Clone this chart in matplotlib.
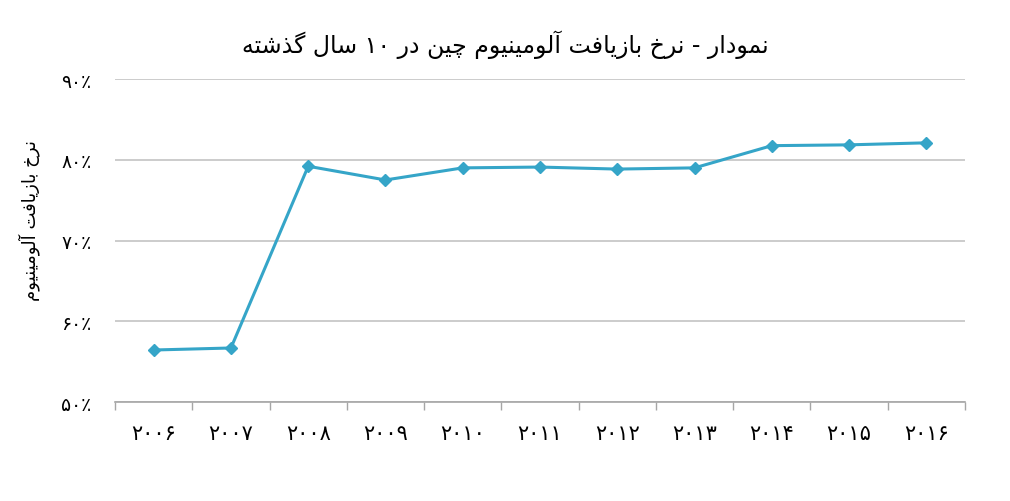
import re
import matplotlib
matplotlib.use("Agg")
import matplotlib.pyplot as plt

# data
years = ["۲۰۰۶", "۲۰۰۷", "۲۰۰۸", "۲۰۰۹", "۲۰۱۰", "۲۰۱۱", "۲۰۱۲", "۲۰۱۳", "۲۰۱۴", "۲۰۱۵", "۲۰۱۶"]
rates = [56.45, 56.7, 79.2, 77.5, 79.0, 79.1, 78.85, 79.0, 81.75, 81.85, 82.1]
y_ticks = [50, 60, 70, 80, 90]
y_tick_labels = ["۵۰٪", "۶۰٪", "۷۰٪", "۸۰٪", "۹۰٪"]
title = "نمودار - نرخ بازیافت آلومینیوم چین در ۱۰ سال گذشته"
y_title = "نرخ بازیافت آلومینیوم"

# matplotlib has no arabic shaping, so map letters to presentation forms by hand
# (isolated, final, initial, medial)
FORMS = {
    'ا': ('\uFE8D', '\uFE8E', None, None),
    'آ': ('\uFE81', '\uFE82', None, None),
    'ب': ('\uFE8F', '\uFE90', '\uFE91', '\uFE92'),
    'پ': ('\uFB56', '\uFB57', '\uFB58', '\uFB59'),
    'ت': ('\uFE95', '\uFE96', '\uFE97', '\uFE98'),
    'ج': ('\uFE9D', '\uFE9E', '\uFE9F', '\uFEA0'),
    'چ': ('\uFB7A', '\uFB7B', '\uFB7C', '\uFB7D'),
    'ح': ('\uFEA1', '\uFEA2', '\uFEA3', '\uFEA4'),
    'خ': ('\uFEA5', '\uFEA6', '\uFEA7', '\uFEA8'),
    'د': ('\uFEA9', '\uFEAA', None, None),
    'ذ': ('\uFEAB', '\uFEAC', None, None),
    'ر': ('\uFEAD', '\uFEAE', None, None),
    'ز': ('\uFEAF', '\uFEB0', None, None),
    'س': ('\uFEB1', '\uFEB2', '\uFEB3', '\uFEB4'),
    'ش': ('\uFEB5', '\uFEB6', '\uFEB7', '\uFEB8'),
    'ف': ('\uFED1', '\uFED2', '\uFED3', '\uFED4'),
    'ق': ('\uFED5', '\uFED6', '\uFED7', '\uFED8'),
    'ک': ('\uFB8E', '\uFB8F', '\uFB90', '\uFB91'),
    'گ': ('\uFB92', '\uFB93', '\uFB94', '\uFB95'),
    'ل': ('\uFEDD', '\uFEDE', '\uFEDF', '\uFEE0'),
    'م': ('\uFEE1', '\uFEE2', '\uFEE3', '\uFEE4'),
    'ن': ('\uFEE5', '\uFEE6', '\uFEE7', '\uFEE8'),
    'ه': ('\uFEE9', '\uFEEA', '\uFEEB', '\uFEEC'),
    'و': ('\uFEED', '\uFEEE', None, None),
    'ی': ('\uFBFC', '\uFBFD', '\uFBFE', '\uFBFF'),
}


def fa(text):
    out = []
    for i, c in enumerate(text):
        if c not in FORMS:
            out.append(c)
            continue
        prev = text[i - 1] if i > 0 else ''
        nxt = text[i + 1] if i + 1 < len(text) else ''
        iso, fin, ini, med = FORMS[c]
        jp = prev in FORMS and FORMS[prev][2] is not None
        jn = nxt in FORMS and ini is not None
        if jp and jn:
            out.append(med)
        elif jp:
            out.append(fin)
        elif jn:
            out.append(ini)
        else:
            out.append(iso)
    tokens = re.findall(r'[0-9۰-۹]+|.', ''.join(out))
    return ''.join(reversed(tokens))


plt.rcParams['font.family'] = ['DejaVu Sans']

fig = plt.figure(figsize=(10.10, 5.02), dpi=100)
ax = fig.add_axes([0.1139, 0.197, 0.8415, 0.6436])

x = list(range(len(years)))
ax.plot(x, rates, color='#35A5C8', lw=2.2, marker='D', ms=6.5, zorder=3)

ax.set_xlim(-0.5, len(years) - 0.5)
ax.set_ylim(50, 90)
ax.set_yticks(y_ticks)
ax.set_yticklabels(y_tick_labels, fontsize=13.5)
ax.set_xticks(x)
ax.set_xticklabels(years, fontsize=15)
ax.set_xticks([i - 0.5 for i in range(len(years) + 1)], minor=True)
ax.tick_params(axis='x', which='major', length=0, pad=15)
ax.tick_params(axis='x', which='minor', length=6, color='#A6A6A6', width=1)
ax.tick_params(axis='y', length=0, pad=17)

ax.grid(axis='y', color='#C3C3C3', lw=1.2)
ax.set_axisbelow(True)
for s in ['top', 'right', 'left']:
    ax.spines[s].set_visible(False)
ax.spines['bottom'].set_color('#A6A6A6')
ax.spines['bottom'].set_linewidth(1.2)

fig.text(0.5, 1 - 45 / 502, fa(title), fontsize=17, ha='center', va='center')
ax.set_ylabel(fa(y_title), fontsize=13)
ax.yaxis.set_label_coords(-0.088, 0.565)

fig.savefig('out.png', dpi=100)
